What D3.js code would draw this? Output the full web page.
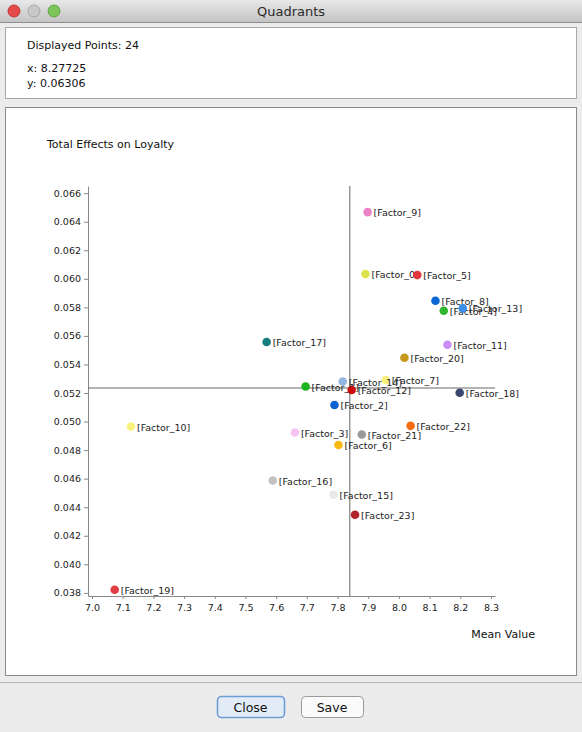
<!DOCTYPE html>
<html><head><meta charset="utf-8">
<script src="https://cdn.jsdelivr.net/npm/d3@7"></script>
<style>html,body{margin:0;padding:0;background:#ececec;overflow:hidden}svg{display:block}</style>
</head><body>
<script>
const factors = ["Factor_0","Factor_1","Factor_2","Factor_3","Factor_4","Factor_5","Factor_6","Factor_7","Factor_8","Factor_9","Factor_10","Factor_11","Factor_12","Factor_13","Factor_14","Factor_15","Factor_16","Factor_17","Factor_18","Factor_19","Factor_20","Factor_21","Factor_22","Factor_23"];
const meanValues = [7.891,7.696,7.790,7.661,8.146,8.060,7.803,7.957,8.119,7.898,7.127,8.158,7.846,8.208,7.817,7.787,7.589,7.569,8.198,7.074,8.018,7.879,8.038,7.857];
const totalEffects = [0.06033,0.05245,0.05116,0.04923,0.05776,0.06026,0.04836,0.05291,0.05846,0.06467,0.04965,0.05538,0.05221,0.05793,0.05280,0.04487,0.04587,0.05557,0.05202,0.03822,0.05447,0.04909,0.04970,0.04347];
const colors = ["#dde24c","#1db31d","#0b62d2","#f9c3f4","#2fb52f","#e3363c","#f7b80f","#f6f07c","#0a66d4","#ea82c6","#f9f27e","#c78ef7","#cc0a0a","#3b8ee8","#93b6e0","#e9e9e9","#c2c2c2","#137f80","#3a4570","#e13d45","#c8981c","#9b9b9b","#f46c12","#b4232a"];
const xTicks = [7.0,7.1,7.2,7.3,7.4,7.5,7.6,7.7,7.8,7.9,8.0,8.1,8.2,8.3];
const yTicks = [0.038,0.040,0.042,0.044,0.046,0.048,0.050,0.052,0.054,0.056,0.058,0.060,0.062,0.064,0.066];
const quadrantX = 7.840;
const quadrantY = 0.05235;
const cursorX = "8.27725", cursorY = "0.06306";

const W = 582, H = 732;
const font = "'DejaVu Sans', sans-serif";
const svg = d3.select("body").append("svg").attr("width", W).attr("height", H).style("font-family", font);

// window background
svg.append("rect").attr("width", W).attr("height", H).attr("fill", "#ececec");
// title bar
const tg = svg.append("defs").append("linearGradient").attr("id","tb").attr("x1",0).attr("x2",0).attr("y1",0).attr("y2",1);
tg.append("stop").attr("offset","0").attr("stop-color","#e8e8e8");
tg.append("stop").attr("offset","1").attr("stop-color","#c4c4c4");
svg.append("rect").attr("width", W).attr("height", 22).attr("fill","url(#tb)");
svg.append("line").attr("x1",0).attr("x2",W).attr("y1",22.5).attr("y2",22.5).attr("stroke","#8e8e8e");
svg.append("text").attr("x", W/2).attr("y", 16).attr("text-anchor","middle").attr("font-size",13).attr("fill","#2a2a2a").text("Quadrants");
[["#e5494a","#b52626"],["#c8c8c8","#9a9a9a"],["#7dc55a","#4f9a32"]].forEach((c,i)=>{
  svg.append("circle").attr("cx",14+i*20).attr("cy",11).attr("r",6).attr("fill",c[0]).attr("stroke",c[1]).attr("stroke-width",0.8);
});

// top info panel
svg.append("rect").attr("x",5.5).attr("y",27.5).attr("width",571).attr("height",71).attr("fill","#fff").attr("stroke","#a8a8a8");
svg.append("text").attr("x",27).attr("y",49).attr("font-size",11).attr("fill","#111").text("Displayed Points: 24");
svg.append("text").attr("x",27).attr("y",72).attr("font-size",11).attr("fill","#111").text("x: " + cursorX);
svg.append("text").attr("x",27).attr("y",87).attr("font-size",11).attr("fill","#111").text("y: " + cursorY);

// chart panel
svg.append("rect").attr("x",5.5).attr("y",107.5).attr("width",571).attr("height",568).attr("fill","#fff").attr("stroke","#8a8a8a");

// bottom area separator
svg.append("line").attr("x1",0).attr("x2",W).attr("y1",682.5).attr("y2",682.5).attr("stroke","#b8b8b8");

// buttons
function button(x, w, label, def){
  const g = svg.append("g");
  g.append("rect").attr("x",x+0.5).attr("y",696.5).attr("width",w).attr("height",21).attr("rx",4)
    .attr("fill", def ? "#e2ecf7" : "#fafafa").attr("stroke", def ? "#6d9cd6" : "#9a9a9a").attr("stroke-width", def?1.6:1);
  g.append("text").attr("x",x+w/2).attr("y",711.5).attr("text-anchor","middle").attr("font-size",12.5).attr("fill","#111").text(label);
}
button(217, 67, "Close", true);
button(301, 62, "Save", false);

// scales
const x = d3.scaleLinear().domain([6.987, 8.313]).range([88, 495]);
const y = d3.scaleLinear().domain([0.03778, 0.06650]).range([596, 186]);

svg.append("text").attr("x",47).attr("y",148).attr("font-size",11).attr("fill","#111").text("Total Effects on Loyalty");
svg.append("text").attr("x",535).attr("y",638).attr("text-anchor","end").attr("font-size",11).attr("fill","#111").text("Mean Value");

const xAxis = svg.append("g").attr("transform","translate(0,596)")
  .call(d3.axisBottom(x).tickValues(xTicks).tickFormat(d3.format(".1f")).tickSize(3).tickSizeOuter(0));
const yAxis = svg.append("g").attr("transform","translate(88,0)")
  .call(d3.axisLeft(y).tickValues(yTicks).tickFormat(d3.format(".3f")).tickSize(4).tickSizeOuter(0));
[xAxis,yAxis].forEach(a=>{
  a.select(".domain").attr("stroke","#888");
  a.selectAll(".tick line").attr("stroke","#888");
  a.selectAll(".tick text").attr("fill","#222").attr("font-size",9.5).attr("font-family",font);
});
xAxis.selectAll(".tick text").attr("dy","0.95em");

// quadrant lines
svg.append("line").attr("x1",x(quadrantX)).attr("x2",x(quadrantX)).attr("y1",186).attr("y2",596).attr("stroke","#666");
svg.append("line").attr("x1",88).attr("x2",495).attr("y1",y(quadrantY)).attr("y2",y(quadrantY)).attr("stroke","#666");

// points
const data = factors.map((f,i)=>({name:f, x:meanValues[i], y:totalEffects[i], c:colors[i]}));
const pg = svg.append("g");
data.forEach(d=>{
  pg.append("circle").attr("cx",x(d.x)).attr("cy",y(d.y)).attr("r",4.3).attr("fill",d.c);
  pg.append("text").attr("x",x(d.x)+6).attr("y",y(d.y)+4).attr("font-size",9.5).attr("fill","#222").text("[" + d.name + "]");
});
</script>
</body></html>
